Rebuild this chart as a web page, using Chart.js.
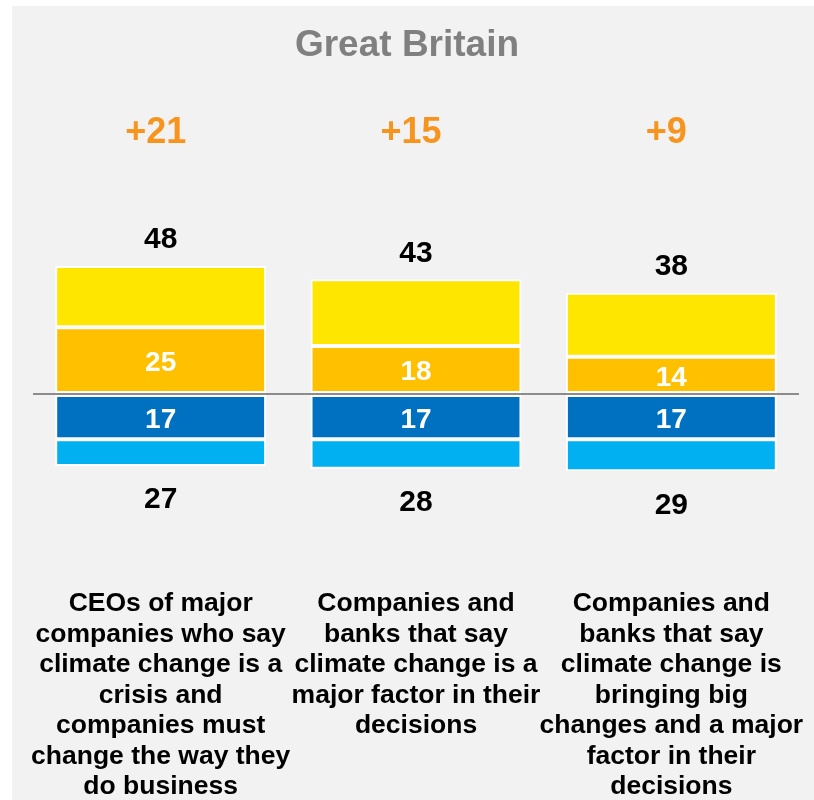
<!DOCTYPE html>
<html>

<head>
  <meta charset="UTF-8">
  <title>Great Britain</title>
  <script src="https://cdn.jsdelivr.net/npm/chart.js"></script>
  <style>
    body {
      margin: 0;
      background: #ffffff;
      font-family: "Liberation Sans", Arial, sans-serif;
    }

    #wrap {
      position: absolute;
      left: 12px;
      top: 6px;
      width: 802px;
      height: 794px;
      background: #f2f2f2;
    }
  </style>
</head>

<body>
  <div id="wrap">
    <canvas id="gbChart" width="802" height="794"></canvas>
  </div>

  <script>
    const categories = [
      ['CEOs of major', 'companies who say', 'climate change is a', 'crisis and', 'companies must', 'change the way they', 'do business'],
      ['Companies and', 'banks that say', 'climate change is a', 'major factor in their', 'decisions'],
      ['Companies and', 'banks that say', 'climate change is', 'bringing big', 'changes and a major', 'factor in their', 'decisions']
    ];
    // agree side
    const agreeTotal = [48, 43, 38];
    const agreeStrong = [25, 18, 14];
    // disagree side
    const disagreeTotal = [27, 28, 29];
    const disagreeStrong = [17, 17, 17];

    const agreeRest = agreeTotal.map((t, i) => t - agreeStrong[i]);
    const disagreeRest = disagreeTotal.map((t, i) => t - disagreeStrong[i]);

    const FONT = '"Liberation Sans", Arial, sans-serif';

    const labelPlugin = {
      id: 'barLabels',
      afterDraw(chart) {
        const ctx = chart.ctx;
        const y = chart.scales.y;
        const x = chart.scales.x;
        const area = chart.chartArea;
        ctx.save();
        ctx.textAlign = 'center';
        ctx.textBaseline = 'middle';

        // heading, a little left of the canvas centre
        ctx.fillStyle = '#808080';
        ctx.font = 'bold 37px ' + FONT;
        ctx.fillText('Great Britain', chart.width / 2 - 6, 40);

        // white numbers inside the strong segments
        [0, 2].forEach(ds => {
          chart.getDatasetMeta(ds).data.forEach((bar, i) => {
            const v = Math.abs(chart.data.datasets[ds].data[i]);
            ctx.fillStyle = '#ffffff';
            ctx.font = 'bold 28px ' + FONT;
            ctx.fillText(v, bar.x, (bar.y + bar.base) / 2 + 3);
          });
        });

        categories.forEach((lines, i) => {
          const cx = x.getPixelForValue(i);

          ctx.fillStyle = '#000000';
          ctx.font = 'bold 30px ' + FONT;
          ctx.fillText(agreeTotal[i], cx, y.getPixelForValue(agreeTotal[i]) - 26);
          ctx.fillText(disagreeTotal[i], cx, y.getPixelForValue(-disagreeTotal[i]) + 34);

          const net = agreeTotal[i] - disagreeTotal[i];
          ctx.fillStyle = '#f7941d';
          ctx.font = 'bold 36px ' + FONT;
          ctx.fillText((net > 0 ? '+' : '') + net, cx - 5, y.getPixelForValue(98));

          ctx.fillStyle = '#000000';
          ctx.font = 'bold 26.5px ' + FONT;
          lines.forEach((ln, k) => {
            ctx.fillText(ln, cx, area.bottom + 50 + k * 30.5);
          });
        });
        ctx.restore();
      }
    };

    new Chart(document.getElementById('gbChart').getContext('2d'), {
      type: 'bar',
      data: {
        labels: categories.map(c => c.join(' ')),
        datasets: [
          { label: 'Agree strongly', data: agreeStrong, backgroundColor: '#ffc000' },
          { label: 'Agree', data: agreeRest, backgroundColor: '#ffe600' },
          { label: 'Disagree strongly', data: disagreeStrong.map(v => -v), backgroundColor: '#0070c0' },
          { label: 'Disagree', data: disagreeRest.map(v => -v), backgroundColor: '#00b0f0' }
        ].map(d => Object.assign(d, {
          borderColor: '#ffffff',
          borderWidth: 2,
          borderSkipped: false,
          categoryPercentage: 0.826,
          barPercentage: 1
        }))
      },
      options: {
        responsive: false,
        animation: false,
        layout: {
          padding: { left: 21, right: 15, top: 68, bottom: 246 }
        },
        plugins: {
          legend: { display: false },
          tooltip: { enabled: false },
          title: { display: false }
        },
        scales: {
          x: {
            stacked: true,
            display: false
          },
          y: {
            stacked: true,
            min: -60,
            max: 120,
            z: 1,
            border: { display: false },
            ticks: { display: false, stepSize: 20 },
            grid: {
              drawTicks: false,
              lineWidth: 2,
              color: c => c.tick.value === 0 ? '#8c8c8c' : 'rgba(0,0,0,0)'
            }
          }
        }
      },
      plugins: [labelPlugin]
    });
  </script>
</body>

</html>
